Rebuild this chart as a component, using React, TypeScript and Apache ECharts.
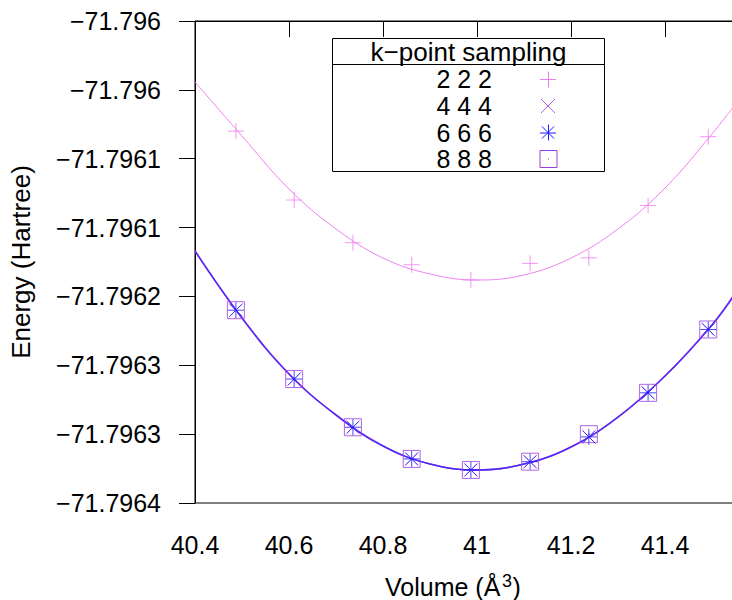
import React, { useEffect, useRef } from "react";
import * as echarts from "echarts";

// ---- data ----
const volumes = [40.487, 40.611, 40.736, 40.861, 40.987, 41.113, 41.238, 41.364, 41.492];
const energy222 = [-71.79608, -71.79613, -71.796161, -71.796177, -71.796188, -71.796176, -71.796172, -71.796134, -71.796084];
const energy444 = [-71.79621, -71.79626, -71.796295, -71.796318, -71.796326, -71.79632, -71.796302, -71.79627, -71.796224];
const energy666 = [-71.79621, -71.79626, -71.796295, -71.796318, -71.796326, -71.79632, -71.796302, -71.79627, -71.796224];
const energy888 = [-71.79621, -71.79626, -71.796295, -71.796318, -71.796326, -71.79632, -71.7963, -71.79627, -71.796224];

// fitted curves
const fitVolumes = [40.4, 40.5, 40.6, 40.7, 40.8, 40.9, 41.0, 41.1, 41.2, 41.3, 41.4, 41.5, 41.55];
const fit222 = [-71.7960443, -71.7960835, -71.796122, -71.796151, -71.7961721, -71.7961837, -71.7961881, -71.7961844, -71.7961721, -71.796151, -71.7961213, -71.796082, -71.7960603];
const fit444 = [-71.796167, -71.7962157, -71.7962563, -71.7962861, -71.7963086, -71.7963217, -71.796326, -71.7963217, -71.7963093, -71.7962876, -71.7962578, -71.7962207, -71.7961975];
const fit666 = [-71.796167, -71.7962157, -71.7962563, -71.7962861, -71.7963086, -71.7963217, -71.796326, -71.7963217, -71.7963093, -71.7962876, -71.7962578, -71.7962207, -71.7961975];
const fit888 = [-71.796167, -71.7962157, -71.7962563, -71.7962861, -71.7963086, -71.7963217, -71.796326, -71.7963217, -71.7963093, -71.7962876, -71.7962578, -71.7962207, -71.7961975];

const xTickLabels = ["40.4", "40.6", "40.8", "41", "41.2", "41.4", "41.6"];
// bottom to top
const yTickLabels = ["\u221271.7964", "\u221271.7963", "\u221271.7963", "\u221271.7962", "\u221271.7961", "\u221271.7961", "\u221271.796", "\u221271.796"];
const legendLabels = ["2 2 2", "4 4 4", "6 6 6", "8 8 8"];
const legendTitle = "k\u2212point sampling";

// ---- styling ----
const FONT = "'Liberation Sans', Arial, Helvetica, sans-serif";
const C222 = "#f07cf0";
const C444 = "#b55be6";
const C666 = "#1c1cff";
const C888 = "#9a40e0";
const LINE222 = "#ee82ee";
const LINE_PURPLE = "#9a44e4";
const LINE_BLUE = "#2a2aff";

const E_REF = -71.796;
const toAxis = (e: number) => Math.round((e - E_REF) * 1e7) / 100; // units of 1e-5 Hartree

const X_MIN = 40.4, X_MAX = 41.6, X_INT = 0.2;
const Y_MIN = -35, Y_MAX = 0, Y_INT = 5;

const PLUS = "path://M0,8H16M8,0V16";
const CROSS = "path://M0,0L14,14M0,14L14,0";
const STAR = "path://M0,8H16M8,0V16M2,2L14,14M2,14L14,2";
const SQUARE = "path://M0,0H16V16H0ZM7.5,7.5H8.5V8.5H7.5Z";

function pts(xs: number[], ys: number[]) {
  return xs.map((x, i) => [x, toAxis(ys[i])]);
}

function fitSeries(name: string, ys: number[], color: string, width: number, z: number) {
  return {
    name,
    type: "line",
    data: pts(fitVolumes, ys),
    smooth: 0.4,
    showSymbol: false,
    symbol: "none",
    silent: true,
    lineStyle: { color, width },
    z,
  };
}

function scatterSeries(name: string, ys: number[], symbol: string, size: number, color: string, z: number) {
  return {
    name,
    type: "scatter",
    data: pts(volumes, ys),
    symbol,
    symbolSize: size,
    silent: true,
    itemStyle: { color: "none", borderColor: color, borderWidth: 1 },
    emphasis: { disabled: true },
    z,
  };
}

function legendGraphics() {
  const els: any[] = [];
  const boxX = 332.5, boxY = 38.5, boxW = 272, boxH = 133;
  els.push({ type: "rect", shape: { x: boxX, y: boxY, width: boxW, height: boxH }, style: { fill: "#fff", stroke: "#000", lineWidth: 1 }, z: 100 });
  els.push({ type: "line", shape: { x1: boxX, y1: 64.5, x2: boxX + boxW, y2: 64.5 }, style: { stroke: "#000", lineWidth: 1 }, z: 101 });
  els.push({ type: "text", x: 468.5, y: 52, style: { text: legendTitle, fontSize: 26, lineHeight: 24, fontFamily: FONT, fill: "#000", align: "center", verticalAlign: "middle" }, z: 101 });
  const rows = [79, 106, 132.5, 158.5];
  const sx = 548;
  legendLabels.forEach((lab, i) => {
    els.push({ type: "text", x: 492, y: rows[i], style: { text: lab, fontSize: 25, lineHeight: 22, fontFamily: FONT, fill: "#000", align: "right", verticalAlign: "middle" }, z: 101 });
  });
  const line = (x1: number, y1: number, x2: number, y2: number, c: string) => ({ type: "line", shape: { x1, y1, x2, y2 }, style: { stroke: c, lineWidth: 1 }, z: 102 });
  let y = rows[0] + 0.5;
  els.push(line(sx - 8, y, sx + 8, y, C222), line(sx + 0.5, y - 8, sx + 0.5, y + 8, C222));
  y = rows[1];
  els.push(line(sx - 7, y - 7, sx + 7, y + 7, C444), line(sx - 7, y + 7, sx + 7, y - 7, C444));
  y = rows[2];
  els.push(line(sx - 8, y + 0.5, sx + 8, y + 0.5, C666), line(sx + 0.5, y - 8, sx + 0.5, y + 8, C666),
    line(sx - 6, y - 6, sx + 6, y + 6, C666), line(sx - 6, y + 6, sx + 6, y - 6, C666));
  y = rows[3];
  els.push({ type: "rect", shape: { x: sx - 8, y: y - 8, width: 17, height: 17 }, style: { fill: "none", stroke: C888, lineWidth: 1 }, z: 102 });
  els.push({ type: "rect", shape: { x: sx, y: y, width: 1, height: 1 }, style: { fill: C888 }, z: 102 });
  return els;
}

function axisNameGraphics() {
  return [
    { type: "text", x: 21, y: 262, rotation: Math.PI / 2, style: { text: "Energy (Hartree)", fontSize: 26, lineHeight: 24, fontFamily: FONT, fill: "#000", align: "center", verticalAlign: "middle" } },
    { type: "text", x: 385, y: 587, style: { text: "Volume (\u00C5", fontSize: 25, lineHeight: 20, fontFamily: FONT, fill: "#000", align: "left", verticalAlign: "middle" } },
    { type: "text", x: 502, y: 581, style: { text: "3", fontSize: 18, lineHeight: 16, fontFamily: FONT, fill: "#000", align: "left", verticalAlign: "middle" } },
    { type: "text", x: 512.5, y: 587, style: { text: ")", fontSize: 25, lineHeight: 20, fontFamily: FONT, fill: "#000", align: "left", verticalAlign: "middle" } },
  ];
}

export default function App() {
  const ref = useRef<HTMLDivElement>(null);
  useEffect(() => {
    if (!ref.current) return;
    const chart = echarts.init(ref.current, undefined, { renderer: "svg" });
    const option: any = {
      animation: false,
      backgroundColor: "#fff",
      textStyle: { fontFamily: FONT },
      grid: {
        left: 195,
        top: 21,
        width: 564,
        height: 482,
        containLabel: false,
        outerBoundsMode: "none",
        show: true,
        borderColor: "#000",
        borderWidth: 1,
        backgroundColor: "transparent",
      },
      xAxis: {
        type: "value",
        min: X_MIN,
        max: X_MAX,
        interval: X_INT,
        splitLine: { show: false },
        axisLine: { show: true, lineStyle: { color: "#000", width: 1 } },
        axisTick: { show: true, inside: false, length: 16, lineStyle: { color: "#000", width: 1 } },
        axisLabel: {
          show: true,
          margin: 29,
          fontSize: 25,
          fontFamily: FONT,
          color: "#000",
          showMaxLabel: false,
          formatter: (v: number) => {
            const i = Math.round((v - X_MIN) / X_INT);
            return xTickLabels[i] ?? "";
          },
        },
      },
      yAxis: {
        type: "value",
        min: Y_MIN,
        max: Y_MAX,
        interval: Y_INT,
        splitLine: { show: false },
        axisLine: { show: true, lineStyle: { color: "#000", width: 1 } },
        axisTick: { show: true, inside: false, length: 16, lineStyle: { color: "#000", width: 1 } },
        axisLabel: {
          show: true,
          margin: 34,
          fontSize: 25,
          fontFamily: FONT,
          color: "#000",
          formatter: (v: number) => {
            const i = Math.round((v - Y_MIN) / Y_INT);
            return yTickLabels[i] ?? "";
          },
        },
      },
      series: [
        fitSeries("fit 2 2 2", fit222, LINE222, 1, 2),
        fitSeries("fit 4 4 4", fit444, LINE_PURPLE, 1.6, 2),
        fitSeries("fit 8 8 8", fit888, LINE_PURPLE, 1.6, 2),
        fitSeries("fit 6 6 6", fit666, LINE_BLUE, 1, 3),
        scatterSeries("2 2 2", energy222, PLUS, 16, C222, 4),
        scatterSeries("8 8 8", energy888, SQUARE, 17, C888, 4),
        scatterSeries("4 4 4", energy444, CROSS, 14, C444, 5),
        scatterSeries("6 6 6", energy666, STAR, 16, C666, 6),
      ],
      graphic: [...axisNameGraphics(), ...legendGraphics()],
    };
    chart.setOption(option);
    return () => chart.dispose();
  }, []);
  return (
    <div
      ref={ref}
      style={{ position: "fixed", left: 0, top: 0, width: 760, height: 600, background: "#fff" }}
    />
  );
}
